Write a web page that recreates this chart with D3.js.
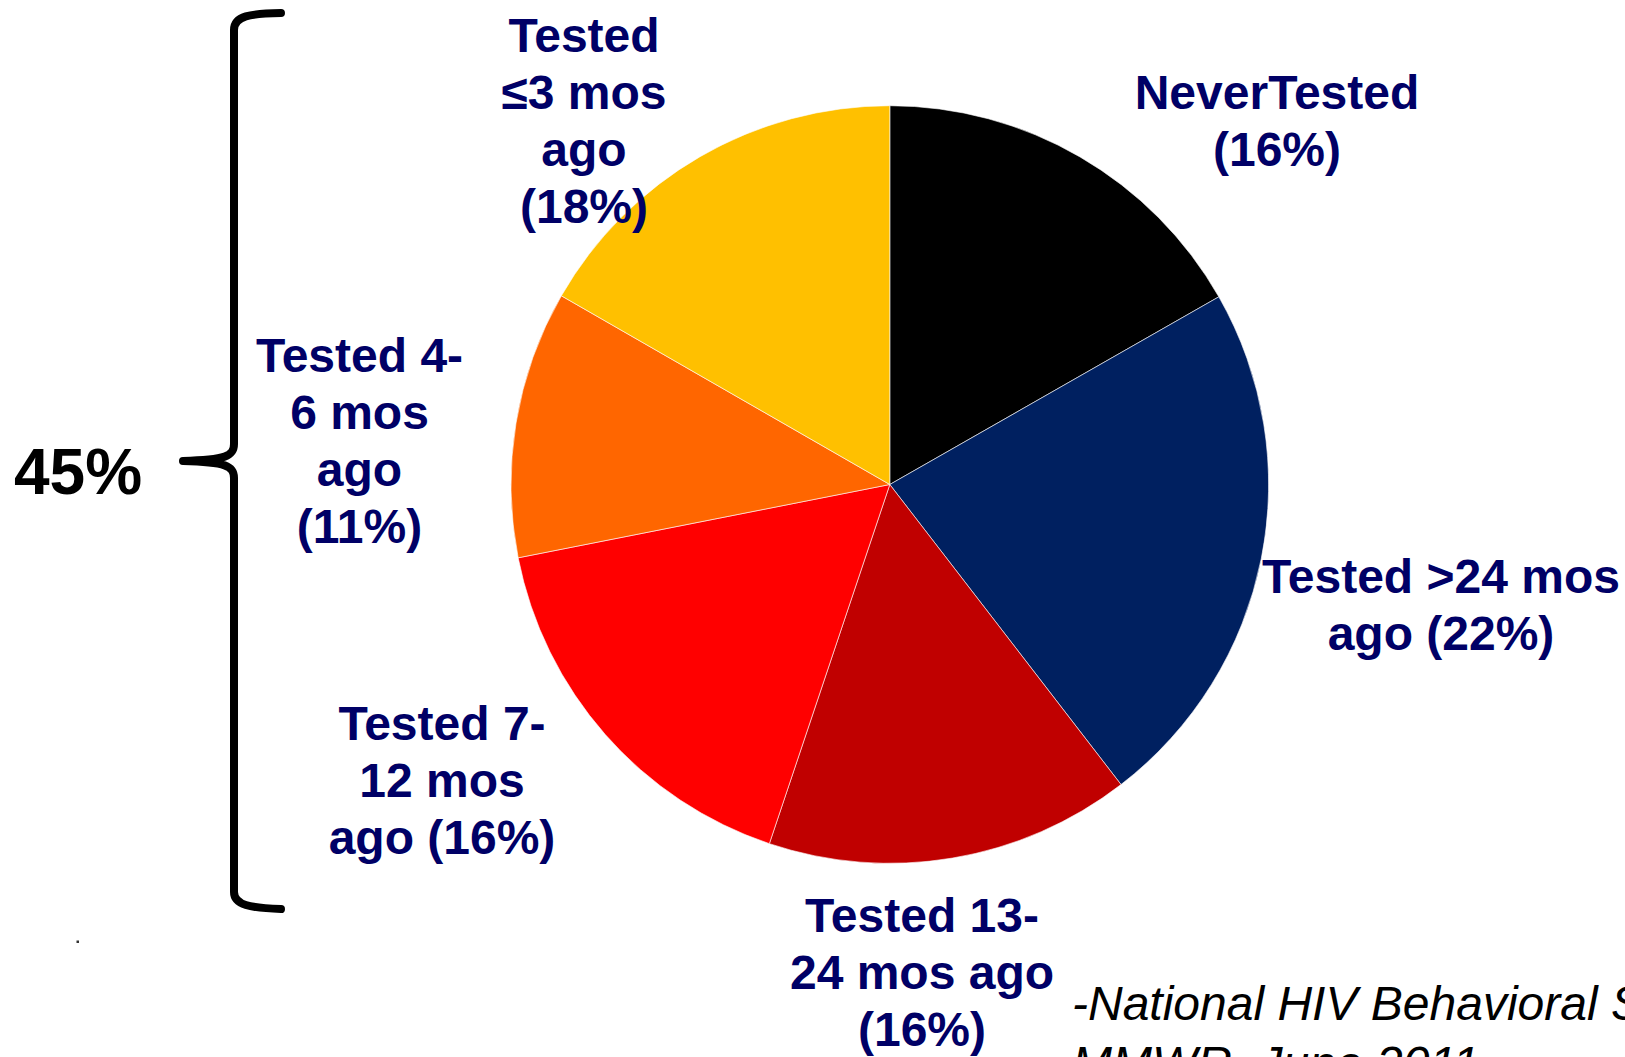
<!DOCTYPE html>
<meta charset="utf-8">
<script src="https://d3js.org/d3.v7.min.js"></script>
<style>
  html, body { margin: 0; padding: 0; background: #fff; overflow: hidden; }
</style>
<div id="chart"></div>
<script>

// slice shares as drawn (clockwise from 12 o'clock)
const categories = ["Never Tested", "Tested >24 mos ago", "Tested 13-24 mos ago", "Tested 7-12 mos ago", "Tested 4-6 mos ago", "Tested <=3 mos ago"];
const shares = [16.75, 22.8, 15.6, 16.75, 11.4, 16.7];
const sliceColors = ["#000000", "#002060", "#C00000", "#FF0000", "#FF6600", "#FFC000"];

// label text, one array of lines per slice
const labelLines = [
    ["NeverTested", "(16%)"],
    ["Tested >24 mos", "ago (22%)"],
    ["Tested 13-", "24 mos ago", "(16%)"],
    ["Tested 7-", "12 mos", "ago (16%)"],
    ["Tested 4-", "6 mos", "ago", "(11%)"],
    ["Tested", "\u22643 mos", "ago", "(18%)"]
];
const bracketLabel = "45%";
const sourceLines = ["-National HIV Behavioral Surveillance", "MMWR, June 2011"];

const W = 1625, H = 1057;
const cx = 889.8, cy = 484.5, radius = 378.8;

// where each label block sits (center x, first baseline)
const labelAnchors = [
    [1277, 109], [1441, 593], [922, 932], [442, 739.5], [359.5, 372], [584, 52]
];
const lineStep = 57;

const svg = d3.select("#chart").append("svg")
    .attr("width", W)
    .attr("height", H);

const pie = d3.pie().sort(null).value(d => d)(shares);
const arc = d3.arc().innerRadius(0).outerRadius(radius);

svg.append("g")
    .attr("transform", `translate(${cx},${cy})`)
    .selectAll("path")
    .data(pie)
    .join("path")
    .attr("d", arc)
    .attr("fill", (d, i) => sliceColors[i])
    .attr("stroke", "#ffffff")
    .attr("stroke-width", 0.6);

// slice labels
const labels = svg.append("g")
    .attr("font-family", "'Liberation Sans', Arial, sans-serif")
    .attr("font-weight", "bold")
    .attr("font-size", 48)
    .attr("fill", "#000066")
    .attr("text-anchor", "middle");

labelLines.forEach((lines, i) => {
    const t = labels.append("text");
    lines.forEach((ln, j) => {
        t.append("tspan")
            .attr("x", labelAnchors[i][0])
            .attr("y", labelAnchors[i][1] + j * lineStep)
            .text(ln);
    });
});

// curly bracket on the left
svg.append("path")
    .attr("d", "M281,13 C250,13.5 234,16 234,30 L234,444 C234,456 226,460 183,461"
        + " M183,461 C226,462 234,466 234,478 L234,892 C234,905 250,908 281,909")
    .attr("fill", "none")
    .attr("stroke", "#000")
    .attr("stroke-width", 8)
    .attr("stroke-linecap", "round")
    .attr("stroke-linejoin", "round");

svg.append("text")
    .attr("x", 14)
    .attr("y", 494)
    .attr("font-family", "'Liberation Sans', Arial, sans-serif")
    .attr("font-weight", "bold")
    .attr("font-size", 64)
    .attr("fill", "#000")
    .text(bracketLabel);

// small stray dot
svg.append("rect")
    .attr("x", 76.5).attr("y", 940.5)
    .attr("width", 2.5).attr("height", 2.5)
    .attr("fill", "#333");

// source note
const src = svg.append("text")
    .attr("font-family", "'Liberation Sans', Arial, sans-serif")
    .attr("font-style", "italic")
    .attr("font-size", 48)
    .attr("fill", "#000");
sourceLines.forEach((ln, j) => {
    src.append("tspan")
        .attr("x", 1072)
        .attr("y", 1020 + j * 60)
        .text(ln);
});

</script>
